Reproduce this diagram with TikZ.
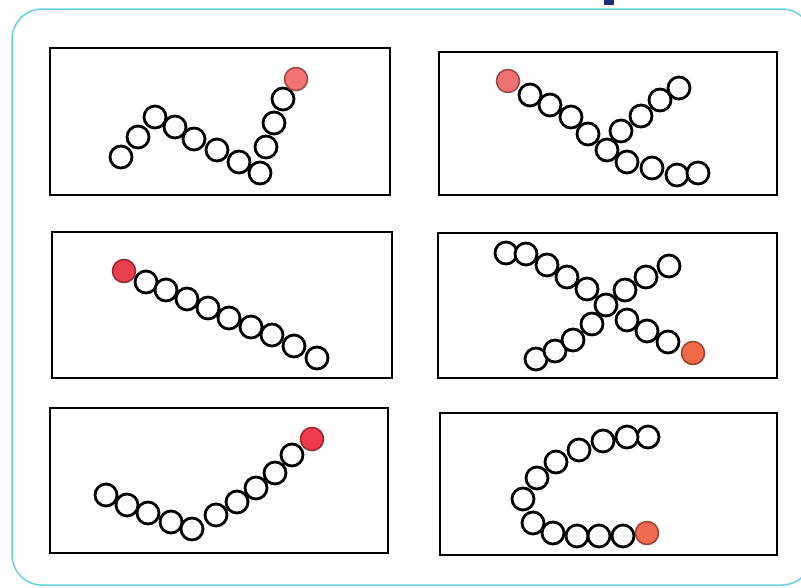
\documentclass[tikz,border=0pt]{standalone}
\begin{document}
\begin{tikzpicture}[x=1pt,y=-1pt,
  bead/.style={circle,draw=black,line width=2.8pt,fill=white,minimum size=22pt,inner sep=0pt},
  redbead/.style={bead,line width=1.6pt,minimum size=23pt,draw=#1!65!black,fill=#1},
  panel/.style={draw=black,line width=2.2pt},
  frame/.style={draw=frameC,line width=1.5pt,rounded corners=30pt}]
\definecolor{frameC}{HTML}{66D3DC}
\definecolor{rA}{HTML}{F07272}
\definecolor{rB}{HTML}{EE7070}
\definecolor{rC}{HTML}{E8404E}
\definecolor{rD}{HTML}{F06A48}
\definecolor{rE}{HTML}{F03C4A}
\definecolor{rF}{HTML}{F06A50}
\definecolor{navy}{HTML}{1F2E6E}
\useasboundingbox (0,0) rectangle (801,587);
\fill[white] (0,0) rectangle (801,587);
\draw[frame] (12,9) rectangle (812,585);
\fill[navy] (604,0) rectangle (614,5);
% panels
\draw[panel] (50,48) rectangle (390,195);
\draw[panel] (439,52) rectangle (777,195);
\draw[panel] (52,232) rectangle (392,378);
\draw[panel] (438,233) rectangle (777,378);
\draw[panel] (50,408) rectangle (388,553);
\draw[panel] (440,413) rectangle (777,555);
% panel 1
\foreach \x/\y [count=\i] in {121/157,138/137,155/117,175/127,194/139,217/150,239/162,260/173,266/147,274/123,283/99}
  \node[bead] (a\i) at (\x,\y) {};
\node[redbead=rA] (ar) at (296,79) {};
% panel 2
\foreach \x/\y [count=\i] in {530/95,550/105,571/117,588/134,607/150,627/162,652/168,677/175,698/173,621/131,641/116,660/100,679/88}
  \node[bead] (b\i) at (\x,\y) {};
\node[redbead=rB] (br) at (508,81) {};
% panel 3
\foreach \x/\y [count=\i] in {146/282,166/290,187/299,208/308,229/318,251/327,272/335,294/346,317/358}
  \node[bead] (c\i) at (\x,\y) {};
\node[redbead=rC] (cr) at (124,271) {};
% panel 4
\foreach \x/\y [count=\i] in {506/253,526/254,547/265,567/277,587/289,606/305,627/320,647/331,668/342,536/359,555/351,573/340,592/324,625/290,646/277,669/266}
  \node[bead] (d\i) at (\x,\y) {};
\node[redbead=rD] (dr) at (693,353) {};
% panel 5
\foreach \x/\y [count=\i] in {106/495,127/505,148/513,171/522,192/529,216/515,237/502,256/488,275/473,292/455}
  \node[bead] (e\i) at (\x,\y) {};
\node[redbead=rE] (er) at (312,439) {};
% panel 6
\foreach \x/\y [count=\i] in {648/437,627/437,603/441,579/450,556/462,537/478,523/499,533/523,553/533,577/536,599/536,623/536}
  \node[bead] (f\i) at (\x,\y) {};
\node[redbead=rF] (fr) at (647,533) {};
\end{tikzpicture}
\end{document}
